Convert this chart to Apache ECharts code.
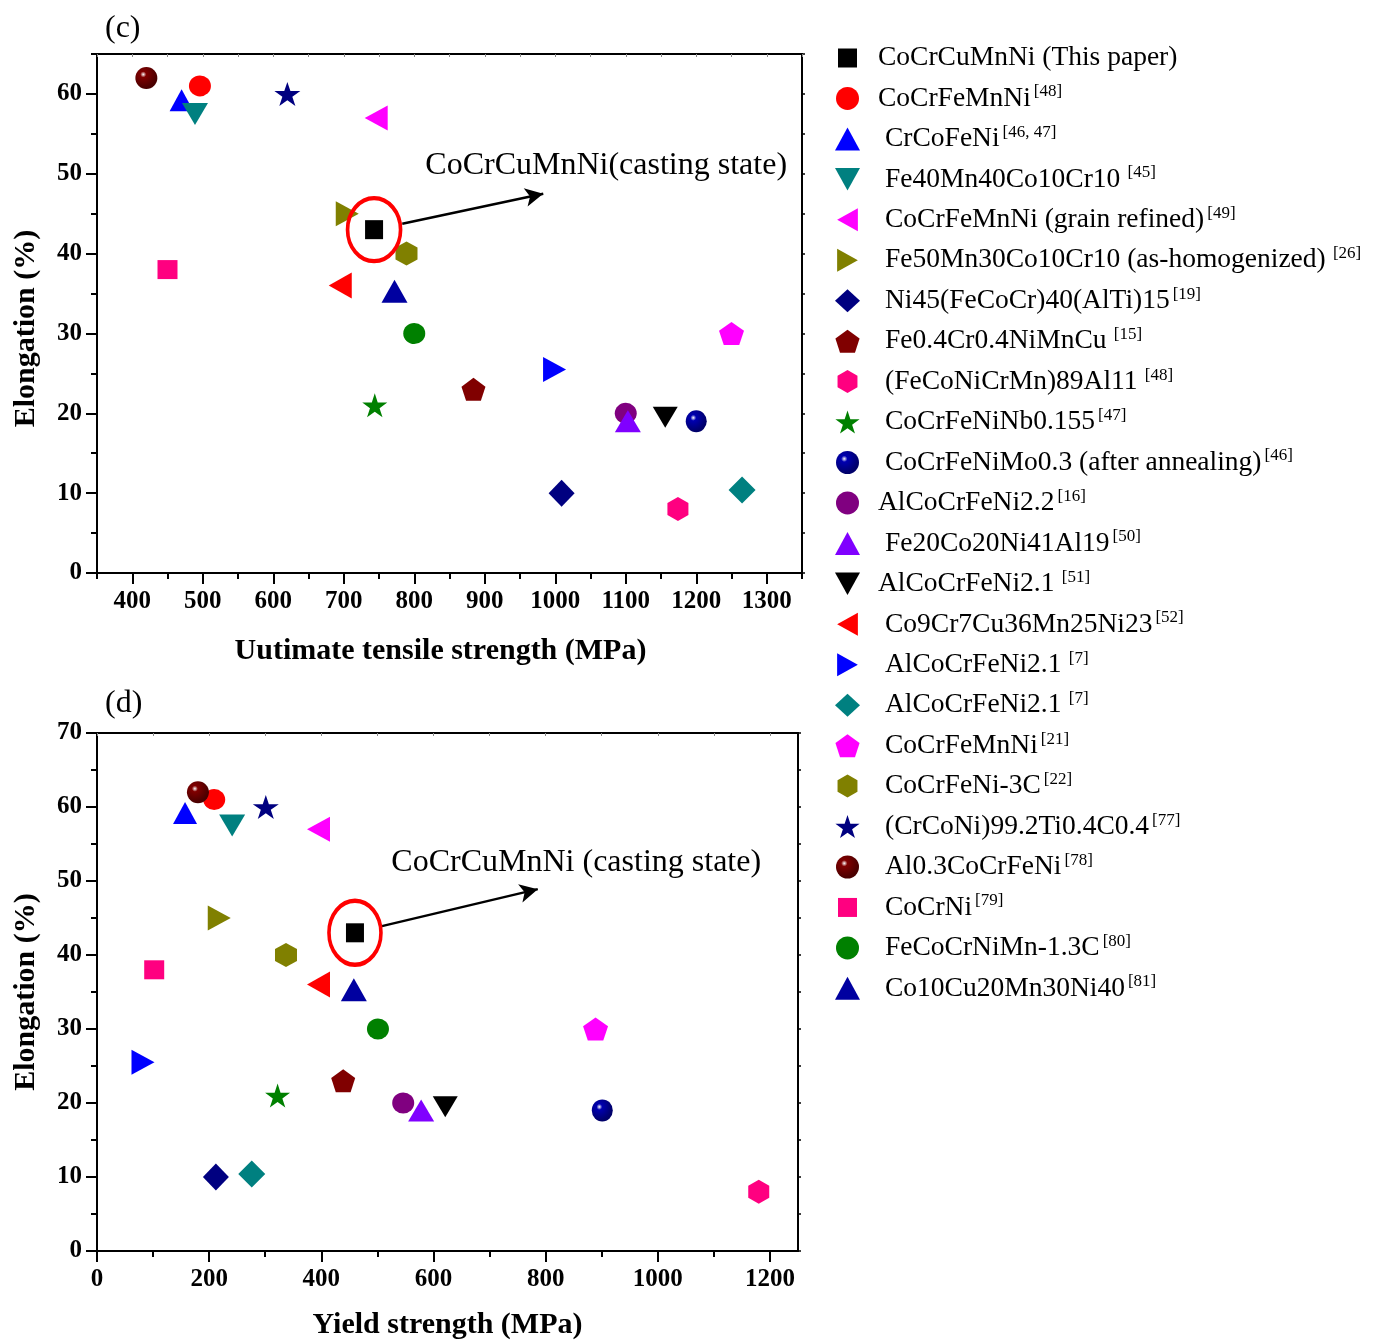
<!DOCTYPE html>
<html>
<head>
<meta charset="utf-8">
<title>Elongation vs strength</title>
<script src="https://cdn.jsdelivr.net/npm/echarts@6/dist/echarts.min.js"></script>
<style>
  html, body { margin: 0; padding: 0; background: #fff; }
  #chart { width: 1374px; height: 1342px; }
</style>
</head>
<body>
<div id="chart"></div>
<script>
const FONT = '"Liberation Serif", "Times New Roman", serif'

// alloy names and reference tags (legend order)
const alloys = [
  'CoCrCuMnNi (This paper)', 'CoCrFeMnNi', 'CrCoFeNi', 'Fe40Mn40Co10Cr10',
  'CoCrFeMnNi (grain refined)', 'Fe50Mn30Co10Cr10 (as-homogenized)', 'Ni45(FeCoCr)40(AlTi)15',
  'Fe0.4Cr0.4NiMnCu', '(FeCoNiCrMn)89Al11', 'CoCrFeNiNb0.155', 'CoCrFeNiMo0.3 (after annealing)',
  'AlCoCrFeNi2.2', 'Fe20Co20Ni41Al19', 'AlCoCrFeNi2.1', 'Co9Cr7Cu36Mn25Ni23', 'AlCoCrFeNi2.1',
  'AlCoCrFeNi2.1', 'CoCrFeMnNi', 'CoCrFeNi-3C', '(CrCoNi)99.2Ti0.4C0.4', 'Al0.3CoCrFeNi',
  'CoCrNi', 'FeCoCrNiMn-1.3C', 'Co10Cu20Mn30Ni40'
]
const refs = [
  '', '[48]', '[46, 47]', ' [45]', '[49]', ' [26]', '[19]', ' [15]', ' [48]', '[47]', '[46]',
  '[16]', '[50]', ' [51]', '[52]', ' [7]', ' [7]', '[21]', '[22]', '[77]', '[78]', '[79]', '[80]', '[81]'
]

// ultimate tensile strength (MPa), panel (c)
const uts = [743, 496, 470, 489, 746, 705, 1009, 884, 1174, 744, 1200, 1100, 1103, 1156, 695, 999, 1265, 1250, 789, 620, 420, 450, 800, 772]
// yield strength (MPa), panel (d)
const ys = [460, 209, 157, 241, 395, 218, 212, 439, 1180, 322, 901, 546, 578, 621, 395, 82, 276, 889, 337, 301, 180, 102, 501, 458]
// elongation (%)
const elongation = [43, 61, 59.2, 57.5, 57, 45, 10, 23, 8, 21, 19, 20, 19, 19.5, 36, 25.5, 10.4, 30, 40, 60, 62, 38, 30, 35.3]

// tick values
const utsTicks = [400, 500, 600, 700, 800, 900, 1000, 1100, 1200, 1300]
const utsMinor = [350, 450, 550, 650, 750, 850, 950, 1050, 1150, 1250, 1350]
const ysTicks = [0, 200, 400, 600, 800, 1000, 1200]
const ysMinor = [100, 300, 500, 700, 900, 1100]
const elongTicksC = [0, 10, 20, 30, 40, 50, 60]
const elongTicksD = [0, 10, 20, 30, 40, 50, 60, 70]
const elongMinor = [5, 15, 25, 35, 45, 55, 65]

// marker shapes
const TRI_DOWN = 'path://M0,0L10,0L5,9Z'
const TRI_LEFT = 'path://M9,0L9,10L0,5Z'
const TRI_RIGHT = 'path://M0,0L9,5L0,10Z'
const PENTAGON = 'path://M0,-10L9.51,-3.09L5.88,8.09L-5.88,8.09L-9.51,-3.09Z'
const HEXAGON = 'path://M0,-10L8.66,-5L8.66,5L0,10L-8.66,5L-8.66,-5Z'
const STAR = 'path://M0,-10L2.25,-3.1L9.51,-3.09L3.64,1.18L5.88,8.09L0,3.83L-5.88,8.09L-3.64,1.18L-9.51,-3.09L-2.25,-3.1Z'
// square icon padded inside the legend box
const LEGEND_SQUARE = 'path://M0,0M25,23M3,2L22,2L22,21L3,21Z'

const sphere = (base, dark) => new echarts.graphic.RadialGradient(0.36, 0.34, 0.62, [
  { offset: 0, color: '#ffffff' },
  { offset: 0.22, color: base },
  { offset: 1, color: dark }
])

const markers = [
  { symbol: 'rect', size: [18, 19], color: '#000000', icon: LEGEND_SQUARE },
  { symbol: 'circle', size: [22, 21], color: '#ff0000' },
  { symbol: 'triangle', size: [24, 22], color: '#0000ff' },
  { symbol: TRI_DOWN, size: [26, 22], color: '#008080' },
  { symbol: TRI_LEFT, size: [23, 25], color: '#ff00ff' },
  { symbol: TRI_RIGHT, size: [23, 25], color: '#808000' },
  { symbol: 'diamond', size: [26, 27], color: '#000080' },
  { symbol: PENTAGON, size: [24, 23], color: '#800000' },
  { symbol: HEXAGON, size: [21, 24], color: '#ff0080' },
  { symbol: STAR, size: [25, 24], color: '#008000' },
  { symbol: 'circle', size: [21, 22], color: sphere('#0000b0', '#00006a') },
  { symbol: 'circle', size: [22, 21], color: '#800080' },
  { symbol: 'triangle', size: [26, 22], color: '#8000ff' },
  { symbol: TRI_DOWN, size: [25, 21], color: '#000000' },
  { symbol: TRI_LEFT, size: [23, 26], color: '#ff0000' },
  { symbol: TRI_RIGHT, size: [23, 25], color: '#0000ff' },
  { symbol: 'diamond', size: [27, 27], color: '#008080' },
  { symbol: PENTAGON, size: [25, 23], color: '#ff00ff' },
  { symbol: HEXAGON, size: [22, 24], color: '#808000' },
  { symbol: STAR, size: [26, 24], color: '#000080' },
  { symbol: 'circle', size: [22, 22], color: sphere('#800000', '#4a0000') },
  { symbol: 'rect', size: [20, 19], color: '#ff0080', icon: LEGEND_SQUARE },
  { symbol: 'circle', size: [22, 21], color: '#008000' },
  { symbol: 'triangle', size: [26, 23], color: '#0000a0' }
]

// legend entries whose text sits a little closer to the icon
const tightIndent = [0, 1, 11, 13]

// unique series names (two entries read "AlCoCrFeNi2.1 [7]")
const names = []
alloys.forEach((a, i) => {
  let n = a + refs[i]
  while (names.includes(n)) n += '\u200b'
  names.push(n)
})

// annotation anchors in data coordinates
const notes = [
  { center: [743, 43], ring: [53, 63], from: [783, 43.75], to: [983, 47.5], textAt: [815, 51], text: 'CoCrCuMnNi(casting state)' },
  { center: [460, 43], ring: [52, 64], from: [508, 43.9], to: [786, 48.9], textAt: [524, 52.5], text: 'CoCrCuMnNi (casting state)' }
]

const black = { color: '#000', width: 2 }
const plain = (v) => String(v)

const xAxes = (grid, min, max, major, minor, name, gap, namePad) => [
  {
    gridIndex: grid, type: 'value', position: 'bottom', min, max,
    name, nameLocation: 'middle', nameGap: gap,
    nameTextStyle: { fontFamily: FONT, fontSize: 30, fontWeight: 'bold', color: '#000', padding: namePad },
    axisLine: { onZero: false, lineStyle: black },
    axisTick: { length: 11, lineStyle: black, customValues: major },
    axisLabel: { customValues: major, formatter: plain, margin: 16, fontFamily: FONT, fontSize: 25, fontWeight: 'bold', color: '#000' },
    splitLine: { show: false }
  },
  {
    gridIndex: grid, type: 'value', position: 'bottom', min, max,
    axisLine: { show: false },
    axisTick: { length: 6, lineStyle: black, customValues: minor },
    axisLabel: { show: false },
    splitLine: { show: false }
  },
  {
    gridIndex: grid, type: 'value', position: 'top', min, max,
    axisLine: { onZero: false, lineStyle: black },
    axisTick: { inside: true, length: 3, lineStyle: { color: '#888', width: 1 }, customValues: major.concat(minor) },
    axisLabel: { show: false },
    splitLine: { show: false }
  }
]

const yAxes = (grid, min, max, major, minor, namePad) => [
  {
    gridIndex: grid, type: 'value', position: 'left', min, max,
    name: 'Elongation (%)', nameLocation: 'middle', nameGap: 56,
    nameTextStyle: { fontFamily: FONT, fontSize: 30, fontWeight: 'bold', color: '#000', padding: namePad },
    axisLine: { onZero: false, lineStyle: black },
    axisTick: { length: 11, lineStyle: black, customValues: major },
    axisLabel: { customValues: major, formatter: plain, margin: 15, fontFamily: FONT, fontSize: 25, fontWeight: 'bold', color: '#000' },
    splitLine: { show: false }
  },
  {
    gridIndex: grid, type: 'value', position: 'left', min, max,
    axisLine: { show: false },
    axisTick: { length: 6, lineStyle: black, customValues: minor },
    axisLabel: { show: false },
    splitLine: { show: false }
  },
  {
    gridIndex: grid, type: 'value', position: 'right', min, max,
    axisLine: { onZero: false, lineStyle: black },
    axisTick: { length: 3, lineStyle: { color: '#000', width: 1.5 }, customValues: major.concat(minor) },
    axisLabel: { show: false },
    splitLine: { show: false }
  }
]

// ellipse, arrow and caption around this paper's point
const annotate = (note) => ({
  markPoint: {
    silent: true,
    animation: false,
    data: [
      {
        coord: note.center, symbol: 'circle', symbolSize: note.ring,
        itemStyle: { color: 'rgba(0,0,0,0)', borderColor: '#ff0000', borderWidth: 4 },
        label: { show: false }
      },
      {
        coord: note.textAt, symbol: 'rect', symbolSize: 1,
        itemStyle: { color: 'rgba(0,0,0,0)' },
        label: { show: true, position: 'right', distance: 0, formatter: note.text, fontFamily: FONT, fontSize: 32, color: '#000' }
      }
    ]
  },
  markLine: {
    silent: true,
    animation: false,
    symbol: ['none', 'arrow'],
    symbolSize: [14, 18],
    lineStyle: { color: '#000', width: 2.5, type: 'solid' },
    label: { show: false },
    data: [[{ coord: note.from }, { coord: note.to }]]
  }
})

const series = []
names.forEach((name, i) => {
  const m = markers[i]
  const base = {
    type: 'scatter', name,
    symbol: m.symbol, symbolSize: m.size,
    itemStyle: { color: m.color, opacity: 1 },
    emphasis: { disabled: true }
  }
  series.push(Object.assign({}, base, { xAxisIndex: 0, yAxisIndex: 0, data: [[uts[i], elongation[i]]] },
    i === 0 ? annotate(notes[0]) : {}))
  series.push(Object.assign({}, base, { xAxisIndex: 3, yAxisIndex: 3, data: [[ys[i], elongation[i]]] },
    i === 0 ? annotate(notes[1]) : {}))
})

const chart = echarts.init(document.getElementById('chart'), null, { renderer: 'canvas' })

chart.setOption({
  animation: false,
  backgroundColor: '#fff',
  title: [
    { text: '(c)', left: 100, top: 8, textStyle: { fontFamily: FONT, fontSize: 32, fontWeight: 'normal', color: '#000' } },
    { text: '(d)', left: 100, top: 683, textStyle: { fontFamily: FONT, fontSize: 32, fontWeight: 'normal', color: '#000' } }
  ],
  grid: [
    { left: 97, top: 54, width: 705, height: 519, containLabel: false },
    { left: 97, top: 733, width: 701, height: 518, containLabel: false }
  ],
  xAxis: [
    ...xAxes(0, 350, 1350, utsTicks, utsMinor, 'Uutimate tensile strength (MPa)', 63, [0, 18, 0, 0]),
    ...xAxes(1, 0, 1250, ysTicks, ysMinor, 'Yield strength (MPa)', 59, 0)
  ],
  yAxis: [
    ...yAxes(0, 0, 65, elongTicksC, elongMinor, [0, 30, 0, 0]),
    ...yAxes(1, 0, 70, elongTicksD, elongMinor, 0)
  ],
  legend: {
    orient: 'vertical',
    left: 830,
    top: 39,
    itemWidth: 25,
    itemHeight: 23,
    itemGap: 11.45,
    selectedMode: false,
    data: names.map((name, i) => ({ name, icon: markers[i].icon || markers[i].symbol })),
    formatter: (name) => {
      const i = names.indexOf(name)
      const cls = tightIndent.includes(i) ? 'a' : 'b'
      return refs[i] ? `{${cls}|${alloys[i]}}{s|${refs[i]}}` : `{${cls}|${alloys[i]}}`
    },
    textStyle: {
      color: '#000',
      fontFamily: FONT,
      fontSize: 28,
      rich: {
        a: { fontFamily: FONT, fontSize: 27.5, lineHeight: 30, color: '#000', padding: [0, 0, 0, 13] },
        b: { fontFamily: FONT, fontSize: 27.5, lineHeight: 30, color: '#000', padding: [0, 0, 0, 20] },
        s: { fontFamily: FONT, fontSize: 17, lineHeight: 17, color: '#000', verticalAlign: 'top', padding: [0, 0, 0, 3] }
      }
    }
  },
  series
})
</script>
</body>
</html>
